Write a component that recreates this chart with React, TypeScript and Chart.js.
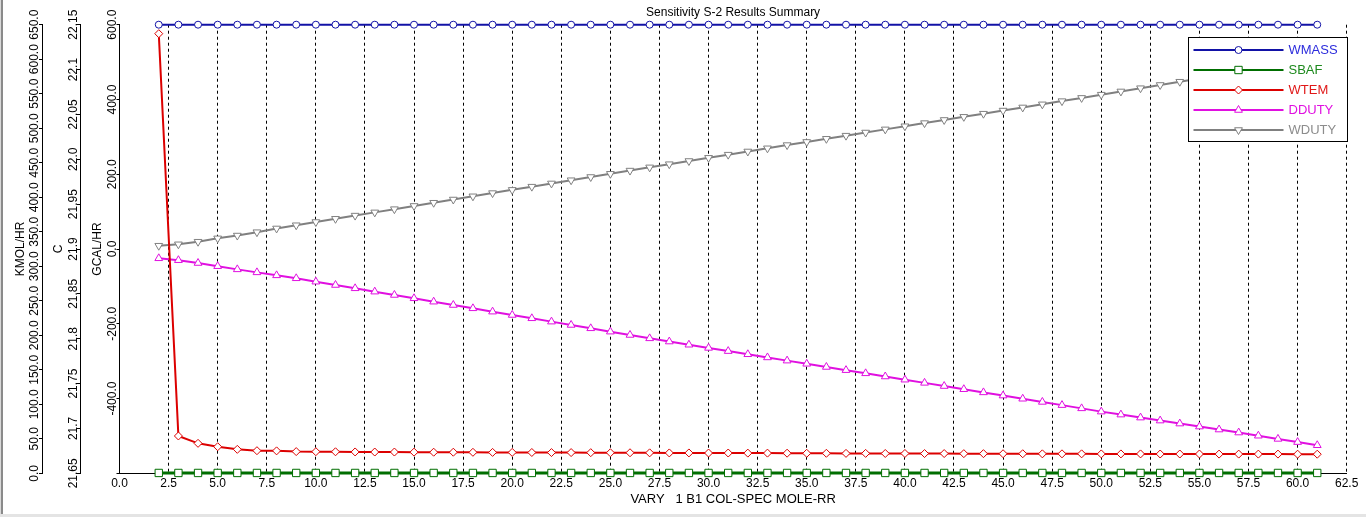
import React, { useEffect, useRef } from 'react';
import { Chart, registerables } from 'chart.js';

Chart.register(...registerables);

const xValues = [
  2, 3, 4, 5, 6, 7, 8, 9, 10, 11, 12, 13, 14, 15, 16, 17, 18, 19, 20, 21,
  22, 23, 24, 25, 26, 27, 28, 29, 30, 31, 32, 33, 34, 35, 36, 37, 38, 39, 40, 41,
  42, 43, 44, 45, 46, 47, 48, 49, 50, 51, 52, 53, 54, 55, 56, 57, 58, 59, 60, 61,
];

const wmass = [
  650, 650, 650, 650, 650, 650, 650, 650, 650, 650, 650, 650, 650, 650, 650, 650, 650, 650, 650, 650,
  650, 650, 650, 650, 650, 650, 650, 650, 650, 650, 650, 650, 650, 650, 650, 650, 650, 650, 650, 650,
  650, 650, 650, 650, 650, 650, 650, 650, 650, 650, 650, 650, 650, 650, 650, 650, 650, 650, 650, 650,
];

const sbaf = [
  0.5, 0.5, 0.5, 0.5, 0.5, 0.5, 0.5, 0.5, 0.5, 0.5, 0.5, 0.5, 0.5, 0.5, 0.5, 0.5, 0.5, 0.5, 0.5, 0.5,
  0.5, 0.5, 0.5, 0.5, 0.5, 0.5, 0.5, 0.5, 0.5, 0.5, 0.5, 0.5, 0.5, 0.5, 0.5, 0.5, 0.5, 0.5, 0.5, 0.5,
  0.5, 0.5, 0.5, 0.5, 0.5, 0.5, 0.5, 0.5, 0.5, 0.5, 0.5, 0.5, 0.5, 0.5, 0.5, 0.5, 0.5, 0.5, 0.5, 0.5,
];

const wtem = [
  22.14, 21.6916, 21.6834, 21.6796, 21.6767, 21.6752, 21.675, 21.6742, 21.6741, 21.674,
  21.6738, 21.6737, 21.6737, 21.6736, 21.6735, 21.6735, 21.6734, 21.6733, 21.6733, 21.6732,
  21.6731, 21.6731, 21.673, 21.6729, 21.6729, 21.6728, 21.6727, 21.6727, 21.6726, 21.6726,
  21.6725, 21.6725, 21.6724, 21.6723, 21.6723, 21.6722, 21.6722, 21.6721, 21.6721, 21.672,
  21.672, 21.6719, 21.6719, 21.6718, 21.6718, 21.6717, 21.6717, 21.6717, 21.6716, 21.6716,
  21.6716, 21.6715, 21.6715, 21.6715, 21.6714, 21.6714, 21.6714, 21.6714, 21.6713, 21.6713,
];

const dduty = [
  -24.9, -30.0, -37.5, -46.0, -54.5, -62.5, -70.5, -78.4, -87.4, -96.3,
  -105.2, -114.1, -123.0, -131.9, -140.9, -149.8, -158.7, -167.6, -176.5, -185.4,
  -194.3, -203.2, -212.2, -221.1, -230.0, -239.0, -247.6, -256.1, -264.6, -273.1,
  -281.6, -290.1, -298.6, -307.1, -315.6, -324.1, -332.6, -341.1, -349.6, -358.1,
  -366.6, -375.1, -383.6, -392.1, -400.6, -409.1, -417.6, -426.3, -435.0, -443.0,
  -451.0, -459.0, -467.0, -475.0, -483.0, -491.0, -499.5, -508.0, -516.5, -525.0,
];

const wduty = [
  8.8, 12.6, 19.5, 28.5, 36.0, 45.0, 55.0, 63.6, 72.2, 80.8,
  89.4, 98.0, 106.6, 115.2, 123.8, 132.4, 141.0, 149.6, 158.2, 166.8,
  175.4, 184.0, 192.6, 201.2, 209.8, 218.4, 226.9, 235.4, 243.9, 252.4,
  260.9, 269.4, 278.0, 286.4, 294.8, 303.2, 311.6, 320.0, 328.4, 336.8,
  345.2, 353.6, 362.0, 370.4, 378.7, 387.0, 395.6, 404.2, 412.9, 421.5,
  430.2, 438.8, 447.5, 456.0, 464.5, 473.0, 481.5, 490.0, 498.5, 507.0,
];

const seriesNames = ['WMASS', 'SBAF', 'WTEM', 'DDUTY', 'WDUTY'];
const titleText = 'Sensitivity S-2 Results Summary';
const xTitle = 'VARY   1 B1 COL-SPEC MOLE-RR';
const yTitles = ['KMOL/HR', 'C', 'GCAL/HR'];

const FONT = "'Liberation Sans', Arial, sans-serif";

type Style = 'circle' | 'rect' | 'rectRot' | 'triangle' | 'triDown';

const seriesDefs: { label: string; data: number[]; axis: string; color: string; text: string; style: Style; radius: number; lw: number }[] = [
  { label: seriesNames[0], data: wmass, axis: 'yK', color: '#1212a6', text: '#2c2cdc', style: 'circle', radius: 3.5, lw: 2 },
  { label: seriesNames[1], data: sbaf, axis: 'yK', color: '#006e00', text: '#1e8a1e', style: 'rect', radius: 5.2, lw: 3 },
  { label: seriesNames[2], data: wtem, axis: 'yC', color: '#dc0000', text: '#e01818', style: 'rectRot', radius: 4, lw: 2 },
  { label: seriesNames[3], data: dduty, axis: 'yG', color: '#e010e0', text: '#e010e0', style: 'triangle', radius: 4.5, lw: 2 },
  { label: seriesNames[4], data: wduty, axis: 'yG', color: '#808080', text: '#8c8c8c', style: 'triDown', radius: 4.5, lw: 2 },
];

function drawMarker(ctx: CanvasRenderingContext2D, style: Style, x: number, y: number, r: number, color: string) {
  ctx.save();
  ctx.beginPath();
  if (style === 'circle') {
    ctx.arc(x, y, r, 0, Math.PI * 2);
  } else if (style === 'rect') {
    const s = r * Math.SQRT1_2;
    ctx.rect(x - s, y - s, 2 * s, 2 * s);
  } else if (style === 'rectRot') {
    ctx.moveTo(x, y - r);
    ctx.lineTo(x + r, y);
    ctx.lineTo(x, y + r);
    ctx.lineTo(x - r, y);
    ctx.closePath();
  } else {
    const dir = style === 'triangle' ? 1 : -1;
    const h = r * 0.5;
    const w = r * Math.sqrt(3) / 2;
    ctx.moveTo(x, y - dir * r);
    ctx.lineTo(x + w, y + dir * h);
    ctx.lineTo(x - w, y + dir * h);
    ctx.closePath();
  }
  ctx.fillStyle = '#ffffff';
  ctx.fill();
  ctx.lineWidth = 1;
  ctx.strokeStyle = color;
  ctx.stroke();
  ctx.restore();
}

const labelOffsets: Record<string, number> = { yK: 7.5, yC: 6, yG: 7 };

function formatY(id: string, v: number): string {
  if (id === 'yC') {
    const r = Math.round(v * 100) / 100;
    let s = String(r);
    if (s.indexOf('.') < 0) s += '.0';
    return s;
  }
  return (Math.round(v * 10) / 10).toFixed(1);
}

const yLabelPlugin = {
  id: 'yLabels',
  afterDraw(chart: any) {
    const ctx: CanvasRenderingContext2D = chart.ctx;
    ctx.save();
    ctx.font = `12px ${FONT}`;
    ctx.fillStyle = '#000';
    ctx.textAlign = 'center';
    ctx.textBaseline = 'middle';
    for (const id of ['yK', 'yC', 'yG']) {
      const scale = chart.scales[id];
      const cx = scale.right - labelOffsets[id];
      for (const t of scale.ticks) {
        if (id === 'yG' && Math.abs(t.value - scale.min) < 1e-6) continue;
        const py = scale.getPixelForValue(t.value);
        ctx.save();
        ctx.translate(cx, py);
        ctx.rotate(-Math.PI / 2);
        ctx.fillText(formatY(id, t.value), 0, 0);
        ctx.restore();
      }
    }
    ctx.restore();
  },
};

const legendPlugin = {
  id: 'boxLegend',
  afterDraw(chart: any) {
    const ctx: CanvasRenderingContext2D = chart.ctx;
    const area = chart.chartArea;
    const w = 159;
    const h = 104;
    const left = Math.round(area.right - w) + 0.5;
    const top = Math.round(area.top + 12.5) + 0.5;
    ctx.save();
    ctx.fillStyle = '#ffffff';
    ctx.fillRect(left, top, w, h);
    ctx.strokeStyle = '#000';
    ctx.lineWidth = 1;
    ctx.strokeRect(left, top, w, h);
    ctx.font = `13px ${FONT}`;
    ctx.textBaseline = 'middle';
    ctx.textAlign = 'left';
    chart.data.datasets.forEach((ds: any, i: number) => {
      const def = seriesDefs[i];
      const y = top + 12.5 + i * 20;
      ctx.beginPath();
      ctx.moveTo(left + 5, y);
      ctx.lineTo(left + 95, y);
      ctx.strokeStyle = def.color;
      ctx.lineWidth = 2;
      ctx.stroke();
      drawMarker(ctx, def.style, left + 50, y, def.style === 'rect' ? 5.2 : def.radius, def.color);
      ctx.fillStyle = def.text;
      ctx.fillText(ds.label, left + 100, y + 0.5);
    });
    ctx.restore();
  },
};

export default function App() {
  const canvasRef = useRef<HTMLCanvasElement>(null);

  useEffect(() => {
    const canvas = canvasRef.current;
    if (!canvas) return;
    Chart.defaults.font.family = FONT;
    Chart.defaults.color = '#000';

    const datasets = seriesDefs.map((s) => ({
      label: s.label,
      data: xValues.map((x, i) => ({ x, y: s.data[i] })),
      xAxisID: 'x',
      yAxisID: s.axis,
      borderColor: s.color,
      backgroundColor: s.color,
      borderWidth: s.lw,
      pointStyle: s.style === 'triDown' ? 'triangle' : s.style,
      pointRotation: s.style === 'triDown' ? 180 : 0,
      pointRadius: s.radius,
      pointHoverRadius: s.radius,
      pointBackgroundColor: '#ffffff',
      pointBorderColor: s.color,
      pointBorderWidth: 1,
      fill: false,
      tension: 0,
      clip: false,
    }));

    const yCommon = (id: string, title: string, pad: number, width: number, weight: number, min: number, max: number, step: number) => ({
      type: 'linear',
      position: 'left',
      weight,
      min,
      max,
      ticks: { display: false, stepSize: step },
      grid: { drawOnChartArea: false, drawTicks: true, tickLength: 3, color: '#000', lineWidth: 1 },
      border: { display: true, color: '#000', width: 1 },
      title: { display: true, text: title, color: '#000', font: { size: 12, family: FONT }, padding: { top: pad, bottom: 0 } },
      afterFit: (scale: any) => {
        scale.width = width;
      },
    });

    const chart = new Chart(canvas, {
      type: 'line',
      data: { datasets } as any,
      options: {
        responsive: false,
        animation: false,
        devicePixelRatio: 1,
        layout: { padding: { left: 0, right: 19.3, top: 0, bottom: 8 } },
        plugins: {
          legend: { display: false },
          tooltip: { enabled: false },
          title: {
            display: true,
            text: titleText,
            fullSize: false,
            color: '#000',
            font: { size: 12, weight: 'normal', family: FONT },
            padding: { top: 5, bottom: 5.3 },
          },
        },
        scales: {
          x: {
            type: 'linear',
            position: 'bottom',
            min: 0,
            max: 62.5,
            ticks: {
              stepSize: 2.5,
              autoSkip: false,
              maxRotation: 0,
              minRotation: 0,
              padding: 3,
              color: '#000',
              font: { size: 12, family: FONT },
              callback: (v: any) => Number(v).toFixed(1),
            },
            grid: { color: '#000', lineWidth: 1, drawTicks: false, tickLength: 0 },
            border: { display: true, color: '#000', width: 1, dash: [3, 3] },
            title: { display: true, text: xTitle, color: '#000', font: { size: 13, family: FONT }, padding: { top: 0, bottom: 2 } },
            afterFit: (scale: any) => {
              scale.height = 35.7;
            },
          },
          yK: yCommon('yK', yTitles[0], 13.3, 42, 3, 0, 650, 50),
          yC: yCommon('yC', yTitles[1], 9.8, 38, 2, 21.65, 22.15, 0.05),
          yG: yCommon('yG', yTitles[2], 10.3, 39.5, 1, -600, 600, 200),
        } as any,
      },
      plugins: [yLabelPlugin, legendPlugin],
    } as any);

    return () => {
      chart.destroy();
    };
  }, []);

  return (
    <div style={{ position: 'absolute', left: 0, top: 0, width: 1366, height: 517, background: '#ffffff', overflow: 'hidden' }}>
      <canvas ref={canvasRef} width={1366} height={517} style={{ display: 'block', width: 1366, height: 517 }} />
      <div style={{ position: 'absolute', left: 0, top: 0, width: 1, height: 517, background: '#d8d8d8' }} />
      <div style={{ position: 'absolute', left: 1, top: 0, width: 2, height: 517, background: '#8a8a8a' }} />
      <div style={{ position: 'absolute', left: 0, top: 514, width: 1366, height: 3, background: '#e4e4e4' }} />
    </div>
  );
}
